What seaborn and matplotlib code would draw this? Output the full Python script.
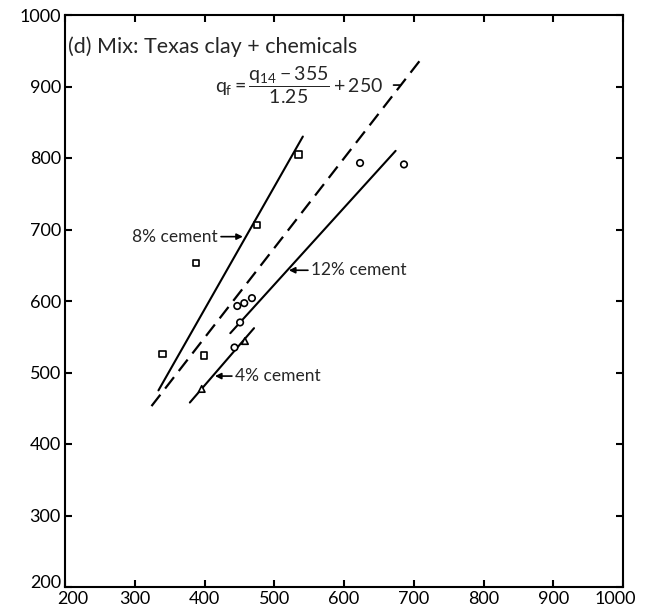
import matplotlib
matplotlib.use("Agg")
import matplotlib.pyplot as plt
import matplotlib.transforms as mtransforms
import seaborn as sns
import pandas as pd

# measured strength points, grouped by cement content
x_8 = [340, 388, 399, 475, 535]
y_8 = [526, 653, 524, 706, 805]
x_12 = [443, 447, 451, 457, 468, 623, 686]
y_12 = [535, 593, 570, 597, 604, 793, 791]
x_4 = [396, 458]
y_4 = [477, 544]

# fitted trend lines (end points)
line_8_x = [334, 541]
line_8_y = [475, 830]
line_12_x = [437, 674]
line_12_y = [555, 810]
line_4_x = [379, 471]
line_4_y = [458, 562]
line_eq_x = [324, 711]
line_eq_y = [453, 939]

ticks = [200, 300, 400, 500, 600, 700, 800, 900, 1000]

sns.set_theme(style="ticks")
plt.rcParams["font.family"] = ["Lato", "DejaVu Sans"]
plt.rcParams["mathtext.fontset"] = "custom"
plt.rcParams["mathtext.rm"] = "Lato"
plt.rcParams["mathtext.it"] = "Lato"

fig = plt.figure(figsize=(6.51, 6.15), dpi=100)
ax = fig.add_axes([65 / 651, 1 - 587 / 615, 558 / 651, 572 / 615])

pts = pd.DataFrame({
    "x": x_8 + x_12 + x_4,
    "y": y_8 + y_12 + y_4,
    "mix": ["8%"] * len(x_8) + ["12%"] * len(x_12) + ["4%"] * len(x_4),
})
sns.scatterplot(data=pts, x="x", y="y", style="mix",
                markers={"8%": "s", "12%": "o", "4%": "^"},
                facecolor="white", edgecolor="black", linewidth=1.2,
                s=22, legend=False, ax=ax, zorder=3)

lines = pd.DataFrame({
    "x": line_8_x + line_12_x + line_4_x,
    "y": line_8_y + line_12_y + line_4_y,
    "mix": ["8%"] * 2 + ["12%"] * 2 + ["4%"] * 2,
})
for key, grp in lines.groupby("mix"):
    sns.lineplot(data=grp, x="x", y="y", color="black", linewidth=1.5,
                 ax=ax, legend=False)
sns.lineplot(x=line_eq_x, y=line_eq_y, color="black", linewidth=1.6,
             ax=ax, legend=False)
ax.lines[-1].set_dashes([6.5, 3.5])

ax.set_xlim(200, 1000)
ax.set_ylim(200, 1000)
ax.set_xticks(ticks)
ax.set_yticks(ticks)
ax.set_xlabel("")
ax.set_ylabel("")
for s in ax.spines.values():
    s.set_linewidth(1.5)
    s.set_color("black")
ax.tick_params(direction="in", length=5, width=1.5, top=True, right=True,
               labelsize=13, pad=3, colors="black")

# nudge the corner labels apart so the two "200"s don't collide
fig.canvas.draw()
xl = ax.get_xticklabels()
yl = ax.get_yticklabels()
xl[0].set_transform(xl[0].get_transform() +
                    mtransforms.ScaledTranslation(8 / 100, 0, fig.dpi_scale_trans))
xl[-1].set_transform(xl[-1].get_transform() +
                     mtransforms.ScaledTranslation(-8 / 100, 0, fig.dpi_scale_trans))
yl[0].set_transform(yl[0].get_transform() +
                    mtransforms.ScaledTranslation(0, 5 / 100, fig.dpi_scale_trans))

ax.text(204, 955, "(d) Mix: Texas clay + chemicals", fontsize=15.5,
        ha="left", va="center")
ax.text(415, 901, r"$q_f = \dfrac{q_{14}-355}{1.25} + 250$", fontsize=14,
        ha="left", va="center")
ax.annotate("", xy=(681, 902), xytext=(671, 902),
            arrowprops=dict(arrowstyle="-", color="black", lw=1.2,
                            shrinkA=0, shrinkB=0))

arrow = dict(arrowstyle="-|>", color="black", lw=1.2, mutation_scale=9,
             shrinkA=0, shrinkB=0)
ax.annotate("8% cement", xy=(455, 690), xytext=(419, 690), fontsize=12.5,
            ha="right", va="center", arrowprops=arrow)
ax.annotate("12% cement", xy=(521, 643), xytext=(553, 643), fontsize=12.5,
            ha="left", va="center", arrowprops=arrow)
ax.annotate("4% cement", xy=(415, 495), xytext=(444, 495), fontsize=12.5,
            ha="left", va="center", arrowprops=arrow)

fig.savefig("out.png", dpi=100)
